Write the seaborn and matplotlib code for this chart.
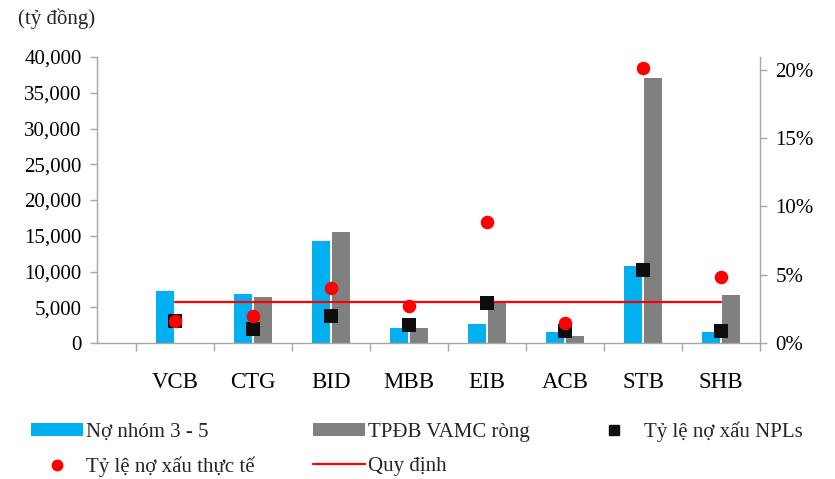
import numpy as np
import pandas as pd
import matplotlib
matplotlib.use("Agg")
import matplotlib.pyplot as plt
import seaborn as sns
from matplotlib.lines import Line2D
from matplotlib.patches import Patch
from matplotlib.ticker import FuncFormatter

# ---- data ----
banks = ["VCB", "CTG", "BID", "MBB", "EIB", "ACB", "STB", "SHB"]
no_nhom_3_5 = [7300, 6900, 14300, 2100, 2650, 1600, 10750, 1600]
tpdb_vamc = [0, 6500, 15500, 2150, 5900, 1000, 37000, 6650]
npl = [1.6, 1.0, 1.95, 1.3, 2.95, 0.9, 5.35, 0.9]
npl_thuc_te = [1.6, 2.0, 4.0, 2.7, 8.85, 1.5, 20.15, 4.8]
quy_dinh = [3, 3, 3, 3, 3, 3, 3, 3]
bar_names = ["Nợ nhóm 3 - 5", "TPĐB VAMC ròng"]
point_names = ["Tỷ lệ nợ xấu NPLs", "Tỷ lệ nợ xấu thực tế", "Quy định"]
left_ticks = [0, 5000, 10000, 15000, 20000, 25000, 30000, 35000, 40000]
right_ticks = [0, 5, 10, 15, 20]
unit_label = "(tỷ đồng)"

BLUE = "#00B0F0"
GREY = "#808080"
BLACK = "#0D0D0D"
RED = "#FF0000"
AXC = "#A6A6A6"

sns.set_theme(style="white")
plt.rcParams["font.family"] = ["Liberation Serif", "DejaVu Serif"]

W, H = 835, 479
fig = plt.figure(figsize=(W / 100, H / 100), dpi=100)
ax = fig.add_axes([97 / W, 1 - 343 / H, (760 - 97) / W, (343 - 57) / H])

df = pd.DataFrame({
    "bank": banks * 2,
    "value": no_nhom_3_5 + tpdb_vamc,
    "series": [bar_names[0]] * len(banks) + [bar_names[1]] * len(banks),
})
sns.barplot(data=df, x="bank", y="value", hue="series", order=banks,
            hue_order=bar_names, palette=[BLUE, GREY], width=0.52, gap=0.1,
            saturation=1, errorbar=None, legend=False, ax=ax, linewidth=0)

ax.set_xlim(-1.0, 7.5)
ax.set_ylim(0, 40000)
ax.set_xlabel("")
ax.set_ylabel("")
ax.set_yticks(left_ticks)
ax.yaxis.set_major_formatter(FuncFormatter(lambda v, p: f"{int(v):,}"))
ax.set_xticks(range(len(banks)))
ax.set_xticklabels(banks)
ax.set_xticks(np.arange(-0.5, len(banks), 1.0), minor=True)
ax.tick_params(axis="x", which="major", length=0, pad=21, labelsize=16.5, labelcolor="black")
ax.tick_params(axis="x", which="minor", length=6, width=1, color=AXC, direction="out", bottom=True)
ax.tick_params(axis="y", which="major", length=5, width=1, color=AXC, direction="out",
               left=True, labelsize=15, labelcolor="black", pad=6)
for s in ["top", "right"]:
    ax.spines[s].set_visible(False)
for s in ["left", "bottom"]:
    ax.spines[s].set_color(AXC)
    ax.spines[s].set_linewidth(1)
ax.grid(False)

ax2 = ax.twinx()
xpos = np.arange(len(banks))
sns.lineplot(x=xpos, y=quy_dinh, color=RED, linewidth=1.6, ax=ax2, zorder=2)
sns.scatterplot(x=xpos, y=npl, marker="s", color=BLACK, s=95, linewidth=0, ax=ax2, zorder=3)
sns.scatterplot(x=xpos, y=npl_thuc_te, marker="o", color=RED, s=95, linewidth=0, ax=ax2, zorder=4)
ax2.set_xlim(-1.0, 7.5)
ax2.set_ylim(0, 20.95)
ax2.set_yticks(right_ticks)
ax2.yaxis.set_major_formatter(FuncFormatter(lambda v, p: f"{int(v)}%"))
ax2.tick_params(axis="y", length=5, width=1, color=AXC, direction="out", right=True,
                labelsize=15, labelcolor="black", pad=6)
ax2.set_xlabel("")
ax2.set_ylabel("")
for s in ["top", "left", "bottom"]:
    ax2.spines[s].set_visible(False)
ax2.spines["right"].set_color(AXC)
ax2.spines["right"].set_linewidth(1)
ax2.grid(False)

fig.text(18 / W, 1 - 19 / H, unit_label, fontsize=15, va="center", ha="left")

handles = [
    Patch(facecolor=BLUE, edgecolor="none"),
    Line2D([], [], linestyle="none", marker="o", color=RED, markersize=7.5),
    Patch(facecolor=GREY, edgecolor="none"),
    Line2D([], [], color=RED, linewidth=1.6),
    Line2D([], [], linestyle="none", marker="s", color=BLACK, markersize=7),
]
labels = [bar_names[0], point_names[1], bar_names[1], point_names[2], point_names[0]]
fig.legend(handles, labels, ncol=3, loc="upper left", bbox_to_anchor=(31 / W, 1 - 421 / H),
           frameon=False, fontsize=15, handlelength=2.5, handleheight=0.6,
           handletextpad=0.15, columnspacing=2.8, labelspacing=0.74,
           borderpad=0, borderaxespad=0)

fig.savefig("out.png", dpi=100)
